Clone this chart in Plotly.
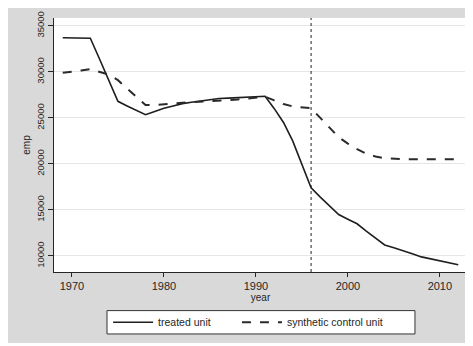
import plotly.graph_objects as go

years = list(range(1969, 2013))
treated = [33700, 33700, 33700, 33650, 31400, 29100, 26800, 26300, 25800, 25350,
           25700, 26050, 26300, 26550, 26700, 26850, 27000, 27100, 27150, 27200,
           27250, 27300, 27350, 26000, 24500, 22500, 20000, 17400, 16400, 15400,
           14500, 14000, 13500, 12700, 11900, 11200, 10900, 10600, 10250, 9900,
           9700, 9450, 9250, 9050]
synthetic = [29900, 30000, 30150, 30300, 30000, 29700, 29100, 28200, 27200, 26400,
             26400, 26450, 26550, 26650, 26700, 26750, 26800, 26850, 26900, 27000,
             27100, 27200, 27300, 26900, 26500, 26250, 26150, 26050, 25000, 23900,
             22900, 22200, 21600, 21100, 20800, 20600, 20550, 20500, 20500, 20500,
             20500, 20500, 20500, 20500]
treatment_year = 1996
y_ticks = [10000, 15000, 20000, 25000, 30000, 35000]
y_tick_labels = ["10000", "15000", "20000", "25000", "30000", "35000"]
x_ticks = [1970, 1980, 1990, 2000, 2010]
x_tick_labels = ["1970", "1980", "1990", "2000", "2010"]

FONT = "Liberation Sans, Arial, sans-serif"
INK = "#262626"

fig = go.Figure()
fig.add_trace(go.Scatter(x=years, y=treated, mode="lines", name="treated unit",
                         line=dict(color="#1e1e1e", width=1.6), legend="legend"))
fig.add_trace(go.Scatter(x=years, y=synthetic, mode="lines", name="synthetic control unit",
                         line=dict(color="#2a2a2a", width=2, dash="dash"), legend="legend2"))
fig.add_vline(x=treatment_year, line=dict(color="#222222", width=1, dash="dot"))

# thin white strip below the grey page (as in the reference image)
fig.add_shape(type="rect", xref="paper", yref="paper", x0=-0.3, x1=1.2, y0=-0.5, y1=-0.2795,
              fillcolor="white", line=dict(width=0), layer="below")
# legend frame enclosing both legend entries
fig.add_shape(type="rect", xref="paper", yref="paper", x0=0.1283, x1=0.874, y0=-0.244, y1=-0.152,
              fillcolor="white", line=dict(width=1, color="#333333"), layer="below")

leg_common = dict(orientation="h", yanchor="middle", y=-0.198, xanchor="left",
                  bgcolor="rgba(0,0,0,0)", borderwidth=0,
                  font=dict(size=10.5, family=FONT, color=INK), itemwidth=40)

fig.update_layout(
    width=473, height=346, autosize=False,
    margin=dict(l=46, r=14, t=10, b=82, autoexpand=False),
    paper_bgcolor="#d9d9d9", plot_bgcolor="white",
    font=dict(family=FONT, color=INK, size=10),
    showlegend=True,
    legend=dict(x=0.131, **leg_common),
    legend2=dict(x=0.443, **leg_common),
    xaxis=dict(range=[1968.05, 2012.95], tickvals=x_ticks, ticktext=x_tick_labels,
               ticks="outside", ticklen=4, automargin=False,
               tickcolor=INK, showline=True, linecolor=INK, linewidth=1, showgrid=False,
               zeroline=False, tickfont=dict(size=11),
               title=dict(text="year", font=dict(size=10), standoff=2)),
    yaxis=dict(range=[8260, 35850], tickvals=y_ticks, ticktext=y_tick_labels,
               ticks="outside", ticklen=5, automargin=False,
               tickcolor=INK, showline=True, linecolor=INK, linewidth=1, showgrid=True,
               gridcolor="#e6e6e6", gridwidth=1, zeroline=False, tickangle=-90,
               tickfont=dict(size=9.5), title=dict(text="emp", font=dict(size=10), standoff=2)),
)

fig.write_html("out.html")
